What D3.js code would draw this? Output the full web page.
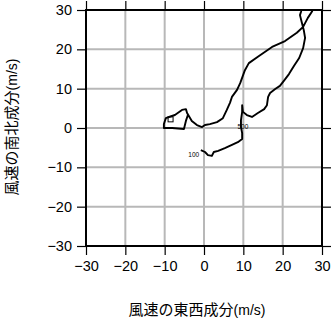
<!DOCTYPE html>
<html><head><meta charset="utf-8">
<script src="https://cdn.jsdelivr.net/npm/d3@7"></script>
<style>body{margin:0;background:#fff}svg{display:block}</style>
</head><body>
<script>
// Wind components along the hodograph (m/s)
const uWind = [-0.8,0.25,1.0,2.0,2.5,3.6,5.3,7.1,8.6,9.7,9.7,9.4,9.4,9.7,9.7,9.9,10.9,12.2,13.7,15.3,16.0,16.3,16.8,18.1,19.3,20.3,21.6,22.9,24.2,25.2,25.7,25.4,24.9,24.4,24.7,24.9,27.7,27.5,26.4,25.2,23.6,20.6,17.3,13.7,11.4,10.4,9.2,8.4,7.1,6.6,5.8,4.8,3.3,1.5,0.25,-0.5,-1.8,-3.1,-4.3,-4.6,-5.6,-7.4,-8.9,-9.7,-10.2,-10.2,-8.1,-5.1,-4.6,-4.1];
const vWind = [-5.6,-6.1,-6.9,-7.1,-6.1,-5.8,-5.1,-4.3,-3.6,-2.8,-1.3,0.25,2.0,4.1,5.8,4.1,3.3,2.8,3.8,4.8,5.8,7.9,8.9,9.9,10.7,12.0,13.7,15.8,17.8,20.3,22.9,24.7,26.7,28.7,29.7,31.0,31.0,29.7,28.0,25.7,24.2,22.1,20.6,18.1,16.5,14.7,11.4,9.7,7.9,6.4,4.6,2.5,1.5,1.0,0.76,0.25,0.76,1.8,3.8,4.8,4.6,3.3,2.8,2.5,1.0,0.0,0.0,-0.25,1.8,3.3];
const levelLabels = ["100","500"];
const levelU = [-2.6, 9.9];
const levelV = [-7.4, -0.3];
const markerU = [-8.5];
const markerV = [2.2];
const tickValues = [-30,-20,-10,0,10,20,30];
const xTitle = "風速の東西成分";
const yTitle = "風速の南北成分";
const unit = "(m/s)";

const W = 332, H = 319;
const m = {l:86, r:322, t:10, b:246};
const svg = d3.select("body").append("svg").attr("width",W).attr("height",H);
const x = d3.scaleLinear().domain([-30,30]).range([m.l,m.r]);
const y = d3.scaleLinear().domain([-30,30]).range([m.b,m.t]);
const fmt = d => d < 0 ? "\u2212" + Math.abs(d) : String(d);
const numFont = "'Liberation Sans', Arial, Helvetica, sans-serif";
const jpFont = "'Noto Sans CJK JP', sans-serif";

svg.append("defs").append("clipPath").attr("id","clip")
  .append("rect").attr("x",m.l).attr("y",m.t).attr("width",m.r-m.l).attr("height",m.b-m.t);

// grid
const grid = svg.append("g");
grid.selectAll("line.gx").data(tickValues).join("line")
  .attr("x1",d=>x(d)).attr("x2",d=>x(d)).attr("y1",m.t).attr("y2",m.b)
  .attr("stroke","#b8b8b8").attr("stroke-width",2);
grid.selectAll("line.gy").data(tickValues).join("line")
  .attr("y1",d=>y(d)).attr("y2",d=>y(d)).attr("x1",m.l).attr("x2",m.r)
  .attr("stroke","#b8b8b8").attr("stroke-width",2);

// hodograph
const pts = uWind.map((u,i)=>[u,vWind[i]]);
svg.append("path").datum(pts)
  .attr("clip-path","url(#clip)")
  .attr("d", d3.line().x(d=>x(d[0])).y(d=>y(d[1])))
  .attr("fill","none").attr("stroke","#000").attr("stroke-width",1.9)
  .attr("stroke-linejoin","round");

svg.selectAll("rect.mk").data(markerU).join("rect")
  .attr("x",(d)=>x(d)-2.5).attr("y",(d,i)=>y(markerV[i])-2.5)
  .attr("width",5).attr("height",5).attr("fill","none").attr("stroke","#000").attr("stroke-width",1);

svg.selectAll("text.lv").data(levelLabels).join("text")
  .attr("x",(d,i)=>x(levelU[i])).attr("y",(d,i)=>y(levelV[i]))
  .attr("text-anchor","middle").attr("font-family",numFont).attr("font-size",6.5)
  .text(d=>d);

// axes
const tk = 9;
const axB = d3.axisBottom(x).tickValues(tickValues).tickSize(tk).tickSizeOuter(0).tickPadding(6).tickFormat(fmt);
const axL = d3.axisLeft(y).tickValues(tickValues).tickSize(tk).tickSizeOuter(0).tickPadding(5).tickFormat(fmt);
const axT = d3.axisTop(x).tickValues(tickValues).tickSize(tk).tickSizeOuter(0).tickFormat("");
const axR = d3.axisRight(y).tickValues(tickValues).tickSize(tk).tickSizeOuter(0).tickFormat("");
function style(g){
  g.select(".domain").remove();
  g.selectAll(".tick line").attr("stroke","#000").attr("stroke-width",1.2);
  g.selectAll(".tick text").attr("font-family",numFont).attr("font-size",14.5).attr("fill","#000");
}
svg.append("g").attr("transform",`translate(0,${m.b})`).call(axB).call(style);
svg.append("g").attr("transform",`translate(${m.l},0)`).call(axL).call(style);
svg.append("g").attr("transform",`translate(0,${m.t})`).call(axT).call(style);
svg.append("g").attr("transform",`translate(${m.r},0)`).call(axR).call(style);

// frame
svg.append("rect").attr("x",m.l).attr("y",m.t).attr("width",m.r-m.l).attr("height",m.b-m.t)
  .attr("fill","none").attr("stroke","#000").attr("stroke-width",2);

// titles
const xt = svg.append("text").attr("x",197).attr("y",315).attr("text-anchor","middle");
xt.append("tspan").attr("font-family",jpFont).attr("font-size",15).text(xTitle);
xt.append("tspan").attr("font-family",numFont).attr("font-size",14).text(unit);
const yt = svg.append("text").attr("transform","translate(17,127) rotate(-90)").attr("text-anchor","middle");
yt.append("tspan").attr("font-family",jpFont).attr("font-size",15).text(yTitle);
yt.append("tspan").attr("font-family",numFont).attr("font-size",14).text(unit);
</script>
</body></html>
